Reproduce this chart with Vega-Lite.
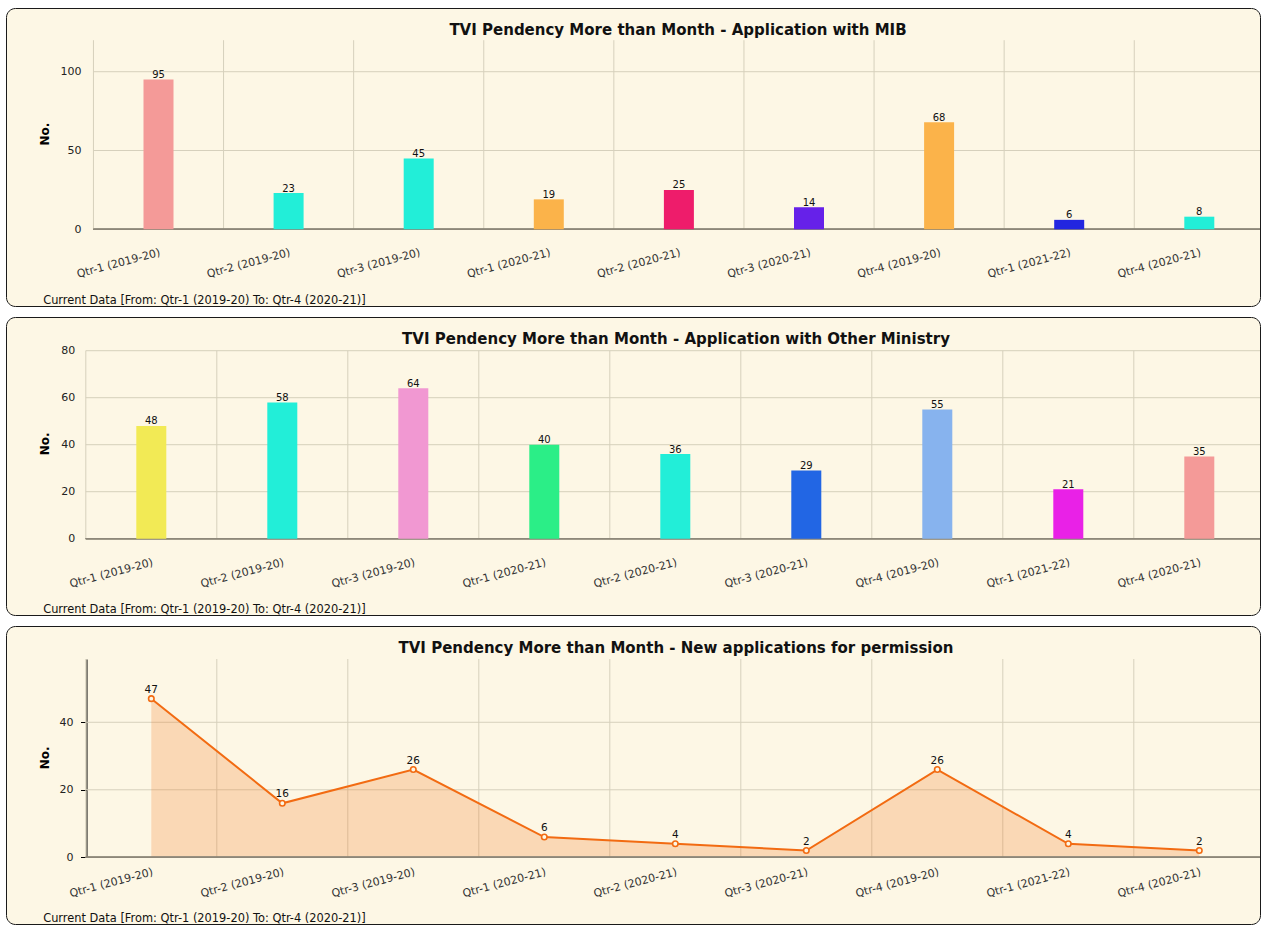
{
  "$schema": "https://vega.github.io/schema/vega-lite/v6.json",
  "background": "white",
  "padding": {"left": 5, "top": 7, "right": 0, "bottom": 0},
  "spacing": 9,
  "resolve": {"scale": {"color": "independent", "x": "independent", "y": "independent"}},
  "config": {
    "font": "DejaVu Sans",
    "view": {"stroke": "#1a1a1a", "strokeWidth": 1, "cornerRadius": 9, "fill": "#FDF7E5"},
    "axis": {"labelFont": "DejaVu Sans", "titleFont": "DejaVu Sans"}
  },
  "datasets": {
    "mib": [
      {"quarter": "Qtr-1 (2019-20)", "count": 95},
      {"quarter": "Qtr-2 (2019-20)", "count": 23},
      {"quarter": "Qtr-3 (2019-20)", "count": 45},
      {"quarter": "Qtr-1 (2020-21)", "count": 19},
      {"quarter": "Qtr-2 (2020-21)", "count": 25},
      {"quarter": "Qtr-3 (2020-21)", "count": 14},
      {"quarter": "Qtr-4 (2019-20)", "count": 68},
      {"quarter": "Qtr-1 (2021-22)", "count": 6},
      {"quarter": "Qtr-4 (2020-21)", "count": 8}
    ],
    "other": [
      {"quarter": "Qtr-1 (2019-20)", "count": 48},
      {"quarter": "Qtr-2 (2019-20)", "count": 58},
      {"quarter": "Qtr-3 (2019-20)", "count": 64},
      {"quarter": "Qtr-1 (2020-21)", "count": 40},
      {"quarter": "Qtr-2 (2020-21)", "count": 36},
      {"quarter": "Qtr-3 (2020-21)", "count": 29},
      {"quarter": "Qtr-4 (2019-20)", "count": 55},
      {"quarter": "Qtr-1 (2021-22)", "count": 21},
      {"quarter": "Qtr-4 (2020-21)", "count": 35}
    ],
    "newapp": [
      {"quarter": "Qtr-1 (2019-20)", "count": 47},
      {"quarter": "Qtr-2 (2019-20)", "count": 16},
      {"quarter": "Qtr-3 (2019-20)", "count": 26},
      {"quarter": "Qtr-1 (2020-21)", "count": 6},
      {"quarter": "Qtr-2 (2020-21)", "count": 4},
      {"quarter": "Qtr-3 (2020-21)", "count": 2},
      {"quarter": "Qtr-4 (2019-20)", "count": 26},
      {"quarter": "Qtr-1 (2021-22)", "count": 4},
      {"quarter": "Qtr-4 (2020-21)", "count": 2}
    ]
  },
  "vconcat": [
    {
      "width": 1254,
      "height": 298,
      "data": {"name": "mib"},
      "title": {"text": "TVI Pendency More than Month - Application with MIB", "frame": "group", "anchor": "middle", "baseline": "alphabetic", "offset": -42, "dx": 45, "fontSize": 15, "fontWeight": "bold", "color": "#111", "font": "DejaVu Sans"},
      "encoding": {
        "x": {
          "field": "quarter", "type": "nominal", "sort": null,
          "scale": {"type": "band", "domain": ["Qtr-1 (2019-20)", "Qtr-2 (2019-20)", "Qtr-3 (2019-20)", "Qtr-1 (2020-21)", "Qtr-2 (2020-21)", "Qtr-3 (2020-21)", "Qtr-4 (2019-20)", "Qtr-1 (2021-22)", "Qtr-4 (2020-21)"], "range": [87.45, 1258.35], "paddingInner": 0, "paddingOuter": 0},
          "axis": {"orient": "bottom", "offset": -76.7, "domain": false, "ticks": false, "grid": false, "labelAngle": -15, "labelAlign": "right", "labelBaseline": "top", "labelPadding": 17, "labelFontSize": 11, "labelColor": "#333",
                   "title": "Current Data [From: Qtr-1 (2019-20) To: Qtr-4 (2020-21)]", "titleX": 36.7, "titleY": 73.7, "titleAlign": "left", "titleAngle": 0, "titleBaseline": "alphabetic", "titleFontSize": 11.4, "titleFontWeight": "normal", "titleColor": "#111"}
        },
        "y": {
          "field": "count", "type": "quantitative",
          "scale": {"domain": [0, 120], "range": [221.3, 32.2], "nice": false, "zero": true},
          "axis": {"orient": "left", "offset": -87.45, "values": [0, 50, 100], "domain": false, "ticks": false, "grid": false, "labelPadding": 12.5, "labelFontSize": 11, "labelColor": "#222",
                   "title": "No.", "titleX": -49.15, "titleY": 125.5, "titleAngle": -90, "titleAlign": "center", "titleBaseline": "middle", "titleFontSize": 12, "titleFontWeight": "bold", "titleColor": "#000"}
        }
      },
      "layer": [
        {"mark": {"type": "rule", "color": "#D6D0BC", "clip": true},
         "encoding": {"x": {"field": "quarter", "type": "nominal", "bandPosition": 0}, "y": {"datum": 0}, "y2": {"datum": 120}}},
        {"data": {"values": [{"tick": 50}, {"tick": 100}]},
         "mark": {"type": "rule", "color": "#D6D0BC", "clip": true},
         "encoding": {"y": {"field": "tick", "type": "quantitative"}, "x": {"datum": "Qtr-1 (2019-20)", "type": "nominal", "bandPosition": 0}, "x2": {"datum": "Qtr-4 (2020-21)", "bandPosition": 1}}},
        {"mark": {"type": "rule", "color": "#8E887A", "clip": true},
         "encoding": {"y": {"datum": 0}, "x": {"datum": "Qtr-1 (2019-20)", "type": "nominal", "bandPosition": 0}, "x2": {"datum": "Qtr-4 (2020-21)", "bandPosition": 1}}},
        {"mark": {"type": "bar", "width": 30},
         "encoding": {"color": {"field": "quarter", "type": "nominal", "legend": null,
           "scale": {"domain": ["Qtr-1 (2019-20)", "Qtr-2 (2019-20)", "Qtr-3 (2019-20)", "Qtr-1 (2020-21)", "Qtr-2 (2020-21)", "Qtr-3 (2020-21)", "Qtr-4 (2019-20)", "Qtr-1 (2021-22)", "Qtr-4 (2020-21)"],
                     "range": ["#F49A98", "#22EED8", "#22EED8", "#FBB34A", "#EE1C6B", "#6621E9", "#FBB34A", "#2226E0", "#22EED8"]}}}},
        {"mark": {"type": "text", "baseline": "alphabetic", "dy": -1.5, "fontSize": 10, "color": "#111"},
         "encoding": {"text": {"field": "count", "type": "quantitative"}}}
      ]
    },
    {
      "width": 1254,
      "height": 298,
      "data": {"name": "other"},
      "title": {"text": "TVI Pendency More than Month - Application with Other Ministry", "frame": "group", "anchor": "middle", "baseline": "alphabetic", "offset": -42, "dx": 43, "fontSize": 15, "fontWeight": "bold", "color": "#111", "font": "DejaVu Sans"},
      "encoding": {
        "x": {
          "field": "quarter", "type": "nominal", "sort": null,
          "scale": {"type": "band", "domain": ["Qtr-1 (2019-20)", "Qtr-2 (2019-20)", "Qtr-3 (2019-20)", "Qtr-1 (2020-21)", "Qtr-2 (2020-21)", "Qtr-3 (2020-21)", "Qtr-4 (2019-20)", "Qtr-1 (2021-22)", "Qtr-4 (2020-21)"], "range": [79.8, 1258.8], "paddingInner": 0, "paddingOuter": 0},
          "axis": {"orient": "bottom", "offset": -76.3, "domain": false, "ticks": false, "grid": false, "labelAngle": -15, "labelAlign": "right", "labelBaseline": "top", "labelPadding": 17.5, "labelFontSize": 11, "labelColor": "#333",
                   "title": "Current Data [From: Qtr-1 (2019-20) To: Qtr-4 (2020-21)]", "titleX": 36.7, "titleY": 73.3, "titleAlign": "left", "titleAngle": 0, "titleBaseline": "alphabetic", "titleFontSize": 11.4, "titleFontWeight": "normal", "titleColor": "#111"}
        },
        "y": {
          "field": "count", "type": "quantitative",
          "scale": {"domain": [0, 80], "range": [221.7, 33.7], "nice": false, "zero": true},
          "axis": {"orient": "left", "offset": -79.8, "values": [0, 20, 40, 60, 80], "domain": false, "ticks": false, "grid": false, "labelPadding": 11, "labelFontSize": 11, "labelColor": "#222",
                   "title": "No.", "titleX": -41.5, "titleY": 126.3, "titleAngle": -90, "titleAlign": "center", "titleBaseline": "middle", "titleFontSize": 12, "titleFontWeight": "bold", "titleColor": "#000"}
        }
      },
      "layer": [
        {"mark": {"type": "rule", "color": "#D6D0BC", "clip": true},
         "encoding": {"x": {"field": "quarter", "type": "nominal", "bandPosition": 0}, "y": {"datum": 0}, "y2": {"datum": 80}}},
        {"data": {"values": [{"tick": 20}, {"tick": 40}, {"tick": 60}, {"tick": 80}]},
         "mark": {"type": "rule", "color": "#D6D0BC", "clip": true},
         "encoding": {"y": {"field": "tick", "type": "quantitative"}, "x": {"datum": "Qtr-1 (2019-20)", "type": "nominal", "bandPosition": 0}, "x2": {"datum": "Qtr-4 (2020-21)", "bandPosition": 1}}},
        {"mark": {"type": "rule", "color": "#8E887A", "clip": true},
         "encoding": {"y": {"datum": 0}, "x": {"datum": "Qtr-1 (2019-20)", "type": "nominal", "bandPosition": 0}, "x2": {"datum": "Qtr-4 (2020-21)", "bandPosition": 1}}},
        {"mark": {"type": "bar", "width": 30},
         "encoding": {"color": {"field": "quarter", "type": "nominal", "legend": null,
           "scale": {"domain": ["Qtr-1 (2019-20)", "Qtr-2 (2019-20)", "Qtr-3 (2019-20)", "Qtr-1 (2020-21)", "Qtr-2 (2020-21)", "Qtr-3 (2020-21)", "Qtr-4 (2019-20)", "Qtr-1 (2021-22)", "Qtr-4 (2020-21)"],
                     "range": ["#F2EA55", "#22EED8", "#F198D2", "#2BEE87", "#22EED8", "#2266E4", "#87B3EE", "#E921E7", "#F49A98"]}}}},
        {"mark": {"type": "text", "baseline": "alphabetic", "dy": -1.5, "fontSize": 10, "color": "#111"},
         "encoding": {"text": {"field": "count", "type": "quantitative"}}}
      ]
    },
    {
      "width": 1254,
      "height": 298,
      "data": {"name": "newapp"},
      "title": {"text": "TVI Pendency More than Month - New applications for permission", "frame": "group", "anchor": "middle", "baseline": "alphabetic", "offset": -42, "dx": 43, "fontSize": 15, "fontWeight": "bold", "color": "#111", "font": "DejaVu Sans"},
      "encoding": {
        "x": {
          "field": "quarter", "type": "nominal", "sort": null,
          "scale": {"type": "band", "domain": ["Qtr-1 (2019-20)", "Qtr-2 (2019-20)", "Qtr-3 (2019-20)", "Qtr-1 (2020-21)", "Qtr-2 (2020-21)", "Qtr-3 (2020-21)", "Qtr-4 (2019-20)", "Qtr-1 (2021-22)", "Qtr-4 (2020-21)"], "range": [79.8, 1258.8], "paddingInner": 0, "paddingOuter": 0},
          "axis": {"orient": "bottom", "offset": -66.7, "domain": false, "ticks": false, "grid": false, "labelAngle": -15, "labelAlign": "right", "labelBaseline": "top", "labelPadding": 8.5, "labelFontSize": 11, "labelColor": "#333",
                   "title": "Current Data [From: Qtr-1 (2019-20) To: Qtr-4 (2020-21)]", "titleX": 36.7, "titleY": 63.7, "titleAlign": "left", "titleAngle": 0, "titleBaseline": "alphabetic", "titleFontSize": 11.4, "titleFontWeight": "normal", "titleColor": "#111"}
        },
        "y": {
          "field": "count", "type": "quantitative",
          "scale": {"domain": [0, 58.75], "range": [231.3, 33], "nice": false, "zero": true},
          "axis": {"orient": "left", "offset": -80.5, "values": [0, 20, 40], "domain": true, "domainColor": "#000", "ticks": true, "tickColor": "#000", "tickSize": 6, "grid": false, "labelPadding": 7.4, "labelFontSize": 11, "labelColor": "#222",
                   "title": "No.", "titleX": -42.2, "titleY": 131.3, "titleAngle": -90, "titleAlign": "center", "titleBaseline": "middle", "titleFontSize": 12, "titleFontWeight": "bold", "titleColor": "#000"}
        }
      },
      "layer": [
        {"mark": {"type": "rule", "color": "#D6D0BC", "clip": true},
         "encoding": {"x": {"field": "quarter", "type": "nominal", "bandPosition": 0}, "y": {"datum": 0}, "y2": {"datum": 58.75}}},
        {"data": {"values": [{"tick": 20}, {"tick": 40}]},
         "mark": {"type": "rule", "color": "#D6D0BC", "clip": true},
         "encoding": {"y": {"field": "tick", "type": "quantitative"}, "x": {"datum": "Qtr-1 (2019-20)", "type": "nominal", "bandPosition": 0}, "x2": {"datum": "Qtr-4 (2020-21)", "bandPosition": 1}}},
        {"mark": {"type": "area", "fill": "#F26C0F", "fillOpacity": 0.22}},
        {"mark": {"type": "rule", "color": "#8E887A", "clip": true},
         "encoding": {"y": {"datum": 0}, "x": {"datum": "Qtr-1 (2019-20)", "type": "nominal", "bandPosition": 0}, "x2": {"datum": "Qtr-4 (2020-21)", "bandPosition": 1}}},
        {"mark": {"type": "line", "color": "#F26B12", "strokeWidth": 2}},
        {"mark": {"type": "point", "filled": true, "fill": "#FDF7E5", "stroke": "#F26B12", "strokeWidth": 1.6, "size": 30, "opacity": 1}},
        {"mark": {"type": "text", "baseline": "alphabetic", "dy": -6, "fontSize": 10.5, "color": "#111"},
         "encoding": {"text": {"field": "count", "type": "quantitative"}}}
      ]
    }
  ]
}
